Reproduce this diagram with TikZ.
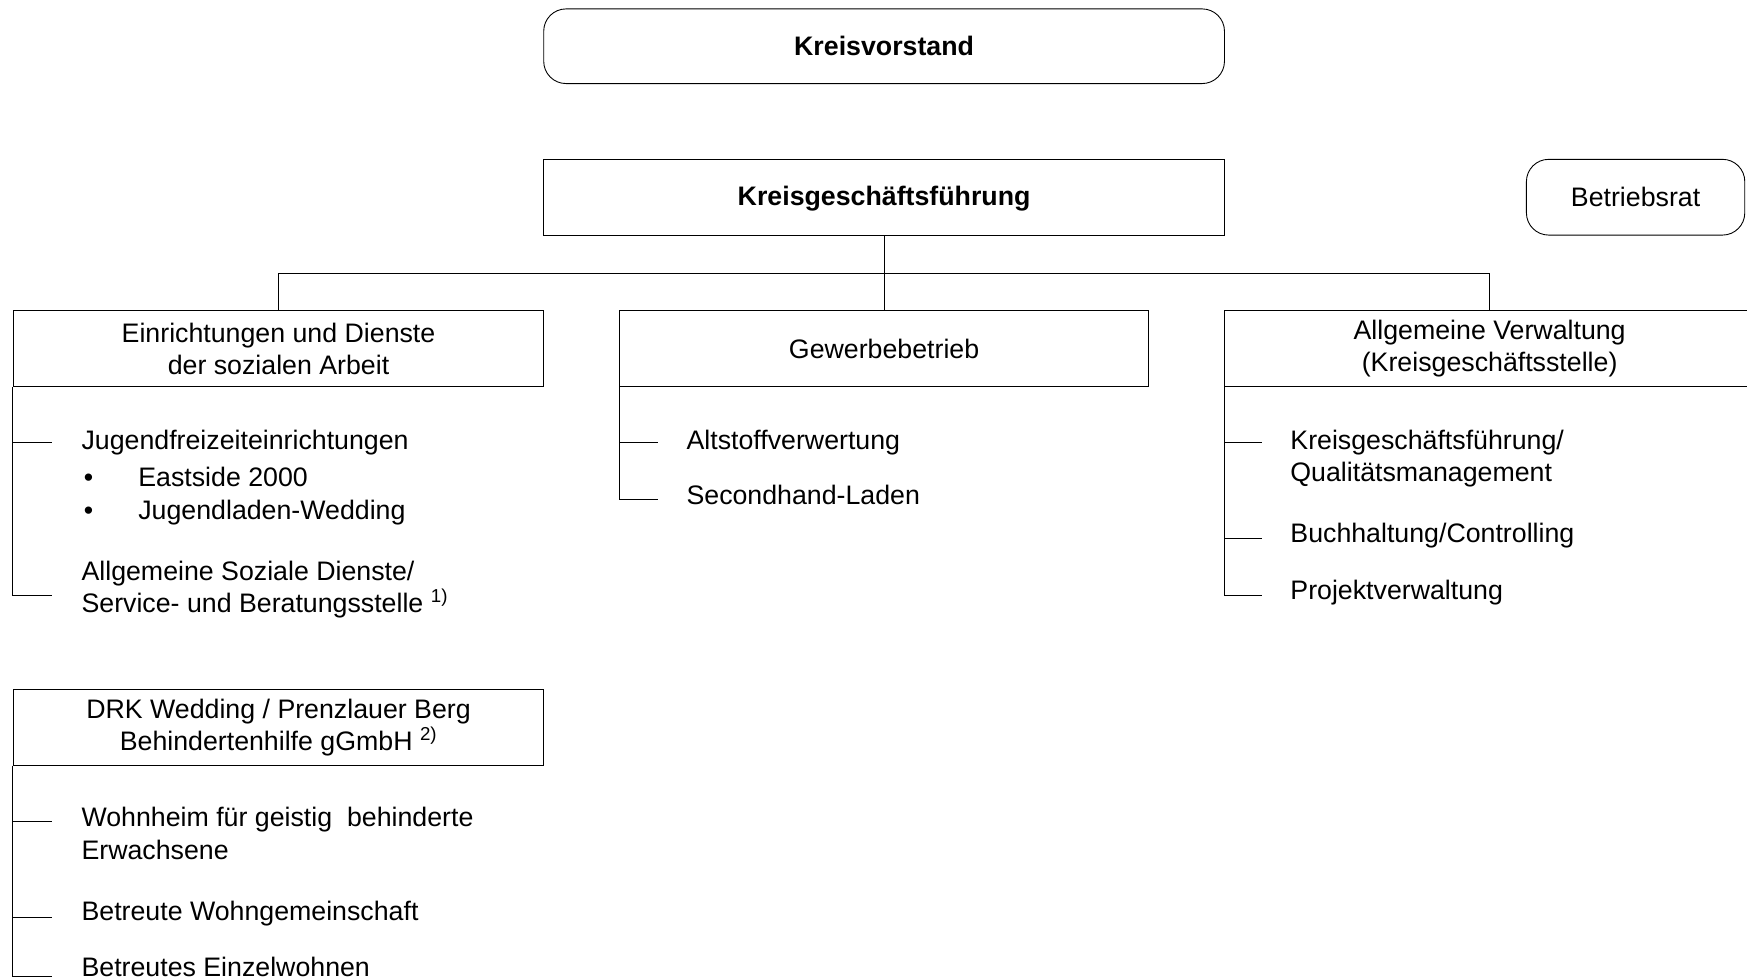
\documentclass[tikz,border=0pt]{standalone}
\usepackage{fontspec}
\setmainfont{Liberation Sans}
\usepackage{tikz}
\usetikzlibrary{positioning}

\begin{document}
\begin{tikzpicture}[x=1pt,y=-1pt,font=\fontsize{24}{29}\selectfont]
	\tikzstyle{box_style} = [draw=black,line width=0.8pt,minimum height=68pt,align=center,inner sep=0pt]
	\tikzstyle{round_style} = [box_style,rounded corners=20pt]
	\tikzstyle{item_style} = [anchor=base west,align=left,inner sep=0pt]
	\tikzstyle{edge_style} = [draw=black,line width=0.8pt]
	\useasboundingbox (0,0) rectangle (1568,878.7);
	% top
	\node[round_style,minimum width=611pt,minimum height=67pt,font=\fontsize{24}{29}\selectfont\bfseries] (vorstand) at (793.5,41.5) {Kreisvorstand};
	\node[box_style,minimum width=611pt,text depth=2pt,font=\fontsize{24}{29}\selectfont\bfseries] (kgf) at (793.5,177) {Kreisgesch\"aftsf\"uhrung};
	\node[round_style,minimum width=196pt] (brat) at (1468,177) {Betriebsrat};
	% departments
	\node[box_style,minimum width=476pt] (soz) at (250,313) {Einrichtungen und Dienste\\der sozialen Arbeit};
	\node[box_style,minimum width=475pt] (gew) at (793.5,313) {Gewerbebetrieb};
	\node[box_style,minimum width=476pt] (verw) at (1337,313) {Allgemeine Verwaltung\\(Kreisgesch\"aftsstelle)};
	\node[box_style,minimum width=476pt] (drk) at (250,653) {DRK Wedding / Prenzlauer Berg\\Behindertenhilfe gGmbH \textsuperscript{2)}};
	\coordinate (hub) at (793.5,245);
	\draw[edge_style] (kgf.south) -- (gew.north);
	\draw[edge_style] (soz.north) |- (hub) -| (verw.north);
	% items
	\node[item_style] (s1) at (73,403) {Jugendfreizeiteinrichtungen};
	\node[item_style] (s2) at (75,466) {\makebox[49pt][l]{\textbullet}Eastside 2000\\\makebox[49pt][l]{\textbullet}Jugendladen-Wedding};
	\node[item_style] (s3) at (73,550) {Allgemeine Soziale Dienste/\\Service- und Beratungsstelle \textsuperscript{1)}};
	\node[item_style] (g1) at (616,403) {Altstoffverwertung};
	\node[item_style] (g2) at (616,453) {Secondhand-Laden};
	\node[item_style] (v1) at (1158,432) {Kreisgesch\"aftsf\"uhrung/\\Qualit\"atsmanagement};
	\node[item_style] (v2) at (1158,487) {Buchhaltung/Controlling};
	\node[item_style] (v3) at (1158,538) {Projektverwaltung};
	\node[item_style] (d1) at (73,771) {Wohnheim f\"ur geistig\ \ behinderte\\Erwachsene};
	\node[item_style] (d2) at (73,826) {Betreute Wohngemeinschaft};
	\node[item_style] (d3) at (73,876) {Betreutes Einzelwohnen};
	% ticks
	\coordinate (ts1) at (47,397);
	\coordinate (ts3) at (47,534);
	\coordinate (tg1) at (591,397);
	\coordinate (tg2) at (591,448);
	\coordinate (tv1) at (1133,397);
	\coordinate (tv2) at (1133,483);
	\coordinate (tv3) at (1133,534);
	\coordinate (td1) at (47,737);
	\coordinate (td2) at (47,823);
	\coordinate (td3) at (47,876);
	\draw[edge_style] (soz.south west) |- (ts1);
	\draw[edge_style] (soz.south west) |- (ts3);
	\draw[edge_style] (gew.south west) |- (tg1);
	\draw[edge_style] (gew.south west) |- (tg2);
	\draw[edge_style] (verw.south west) |- (tv1);
	\draw[edge_style] (verw.south west) |- (tv2);
	\draw[edge_style] (verw.south west) |- (tv3);
	\draw[edge_style] (drk.south west) |- (td1);
	\draw[edge_style] (drk.south west) |- (td2);
	\draw[edge_style] (drk.south west) |- (td3);
\end{tikzpicture}
\end{document}
